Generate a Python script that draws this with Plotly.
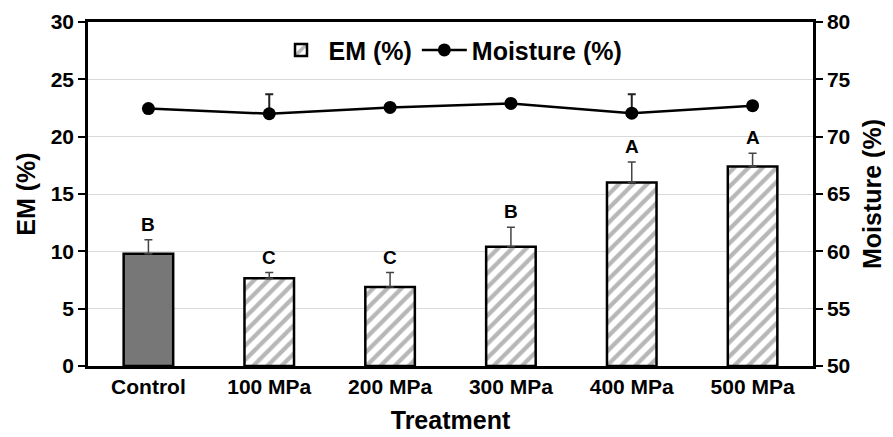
import plotly.graph_objects as go

categories = ["Control", "100 MPa", "200 MPa", "300 MPa", "400 MPa", "500 MPa"]
em_values = [9.8, 7.65, 6.9, 10.4, 16.0, 17.4]
em_errors = [1.2, 0.5, 1.25, 1.7, 1.8, 1.15]
em_letters = ["B", "C", "C", "B", "A", "A"]
moisture_values = [72.45, 72.0, 72.55, 72.9, 72.05, 72.7]
moisture_errors = [0.0, 1.7, 0.0, 0.0, 1.65, 0.0]

FONT = "Arial, Liberation Sans, sans-serif"
fig = go.Figure()

# Control bar (solid)
fig.add_trace(go.Bar(
    x=categories[:1], y=em_values[:1], width=0.41,
    marker=dict(color="#777777", line=dict(color="black", width=2.5)),
    error_y=dict(type="data", array=em_errors[:1], arrayminus=[0], color="#444444",
                 thickness=1.5, width=4),
    showlegend=False, name="EM (%)",
))
# Treatment bars (hatched)
fig.add_trace(go.Bar(
    x=categories[1:], y=em_values[1:], width=0.41, name="<b>EM (%)</b>",
    marker=dict(color="white", line=dict(color="black", width=2.5),
                pattern=dict(shape="/", fgcolor="#707070", bgcolor="white", size=10, solidity=0.42)),
    error_y=dict(type="data", array=em_errors[1:], arrayminus=[0] * 5, color="#444444",
                 thickness=1.5, width=4),
))
fig.add_trace(go.Scatter(
    x=categories, y=moisture_values, yaxis="y2", name="<b>Moisture (%)</b>",
    mode="lines+markers", line=dict(color="black", width=2.5),
    marker=dict(color="black", size=13),
    error_y=dict(type="data", array=moisture_errors, arrayminus=[0] * 6, color="#222222",
                 thickness=2, width=4),
))

for c, v, e, t in zip(categories, em_values, em_errors, em_letters):
    fig.add_annotation(x=c, y=v + e, text="<b>%s</b>" % t, showarrow=False,
                       yanchor="bottom", yshift=3, font=dict(family=FONT, size=19, color="black"))

tickfont = dict(family=FONT, size=21, color="black", weight="bold")
titlefont = dict(family=FONT, size=25, color="black")

fig.update_layout(
    width=885, height=429,
    margin=dict(l=80, r=80, t=14, b=71, autoexpand=False),
    paper_bgcolor="white", plot_bgcolor="white",
    barmode="overlay",
    font=dict(family=FONT, color="black"),
    legend=dict(orientation="h", x=0.5, xanchor="center", y=0.985, yanchor="top",
                font=dict(family=FONT, size=25, color="black"), bgcolor="rgba(0,0,0,0)",
                itemwidth=45),
    xaxis=dict(
        showline=True, linecolor="black", linewidth=2.5, mirror=True, automargin=False,
        ticks="", tickfont=tickfont,
        title=dict(text="<b>Treatment</b>", font=titlefont, standoff=15),
    ),
    yaxis=dict(
        range=[0, 30], dtick=5, showline=True, linecolor="black", linewidth=2.5, automargin=False,
        ticks="outside", ticklen=7, tickwidth=2, tickcolor="black",
        showgrid=True, gridcolor="#d9d9d9", gridwidth=1, zeroline=False,
        tickfont=tickfont,
        title=dict(text="<b>EM (%)</b>", font=titlefont, standoff=8),
    ),
    yaxis2=dict(
        range=[50, 80], dtick=5, overlaying="y", side="right", showline=True, automargin=False,
        linecolor="black", linewidth=2.5, ticks="outside", ticklen=7, tickwidth=2, tickcolor="black",
        showgrid=False, zeroline=False,
        tickfont=tickfont,
        title=dict(text="<b>Moisture (%)</b>", font=titlefont, standoff=14),
    ),
)

fig.write_html("out.html")
